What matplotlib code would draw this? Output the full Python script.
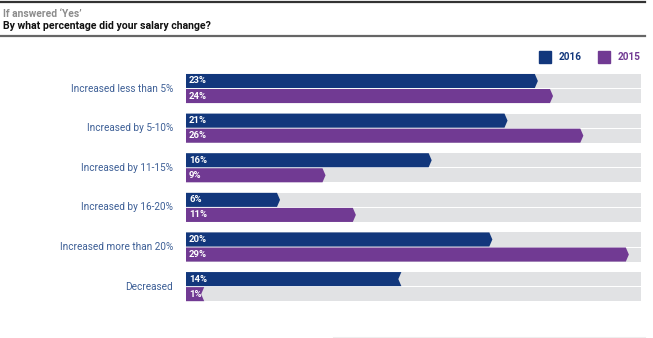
import matplotlib.pyplot as plt
from matplotlib.patches import Polygon
from matplotlib.lines import Line2D

plt.rcParams['font.family'] = ['Roboto', 'DejaVu Sans']

categories = ["Increased less than 5%", "Increased by 5-10%", "Increased by 11-15%",
              "Increased by 16-20%", "Increased more than 20%", "Decreased"]
vals_2016 = [23, 21, 16, 6, 20, 14]
vals_2015 = [24, 26, 9, 11, 29, 1]
series = ["2016", "2015"]
decreased = [False, False, False, False, False, True]

c16 = "#12377c"
c15 = "#713a93"
bg = "#e1e2e4"
lab_col = "#3d5f96"

W, H = 653, 338
fig = plt.figure(figsize=(W / 100, H / 100), dpi=100)

# header lines and titles
fig.add_artist(Line2D([0, 645 / W], [1 - 2 / H, 1 - 2 / H], color="#333333", lw=1.6))
fig.add_artist(Line2D([0, 645 / W], [1 - 36 / H, 1 - 36 / H], color="#666666", lw=1.6))
fig.add_artist(Line2D([333 / W, 645 / W], [1 - 337 / H, 1 - 337 / H], color="#eeeeee", lw=0.8))
fig.text(3 / W, 1 - 14 / H, "If answered \u2018Yes\u2019", color="#8c8c8c",
         fontsize=7.4, fontweight="bold", va="center")
fig.text(3 / W, 1 - 26 / H, "By what percentage did your salary change?", color="#111111",
         fontsize=7.6, fontweight="bold", va="center")

# legend
for x0, name, col in [(539, series[0], c16), (598, series[1], c15)]:
    fig.patches.append(plt.Rectangle((x0 / W, 1 - 63 / H), 12 / W, 12 / H,
                                     transform=fig.transFigure, color=col))
    fig.text((x0 + 20) / W, 1 - 57 / H, name, color=col, fontsize=7.2,
             fontweight="bold", va="center")

ax = fig.add_axes([186 / W, 28 / H, 455 / W, 250 / H])
ax.set_xlim(0, 30)
ax.set_ylim(5.59, -0.72)
ax.axis("off")

h = 0.355
off = 0.19
tip = 0.2  # tip width in data units
for i, cat in enumerate(categories):
    for v, dy, col in [(vals_2016[i], -off, c16), (vals_2015[i], off, c15)]:
        y = i + dy
        ax.barh(y, 30, height=h, color=bg, lw=0)
        y0, y1 = y - h / 2, y + h / 2
        if decreased[i]:
            pts = [(0, y0), (v + tip, y0), (v, y), (v + tip, y1), (0, y1)]
        else:
            pts = [(0, y0), (v, y0), (v + tip, y), (v, y1), (0, y1)]
        ax.add_patch(Polygon(pts, closed=True, color=col, lw=0))
        ax.text(0.2, y, f"{v}%", color="white", fontsize=6.8, fontweight="bold",
                va="center", ha="left")
    ax.text(-0.85, i, cat, color=lab_col, fontsize=7.2, ha="right", va="center")

fig.savefig("out.png", dpi=100)
